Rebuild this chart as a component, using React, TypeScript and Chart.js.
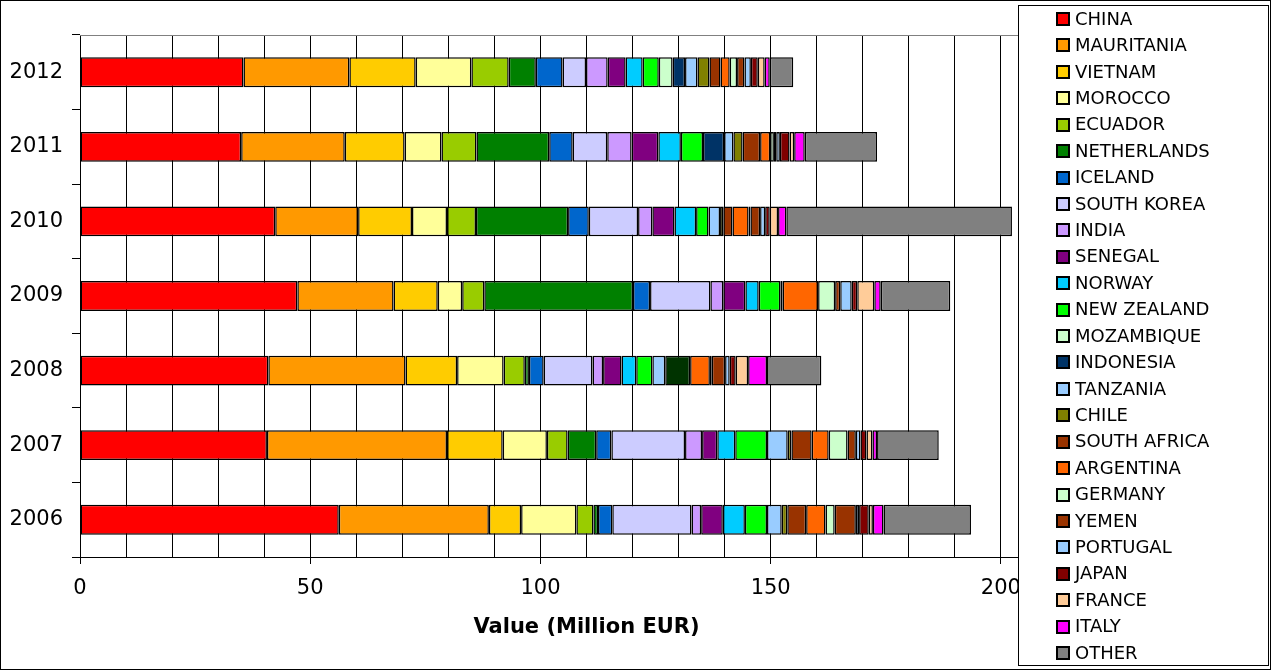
import React, { useEffect, useRef } from 'react';
import { Chart, registerables } from 'chart.js';

Chart.register(...registerables);

// Years, oldest first (the y axis is reversed so 2012 sits on top)
const YEARS = ['2006', '2007', '2008', '2009', '2010', '2011', '2012'];

// Import value per origin country, million EUR, in YEARS order
const CHINA = [56.2, 40.6, 40.9, 47.2, 42.4, 35.0, 35.5];
const MAURITANIA = [32.6, 39.1, 29.8, 20.9, 18.0, 22.5, 23.0];
const VIETNAM = [7.0, 12.1, 11.2, 9.6, 11.7, 13.0, 14.4];
const MOROCCO = [12.0, 9.6, 10.1, 5.3, 7.6, 8.0, 12.1];
const ECUADOR = [3.7, 4.5, 4.6, 4.8, 6.3, 7.6, 8.1];
const NETHERLANDS = [1.0, 6.2, 0.9, 32.3, 20.0, 15.8, 5.9];
const ICELAND = [3.1, 3.3, 3.2, 3.7, 4.5, 5.1, 5.8];
const SOUTH_KOREA = [17.2, 16.0, 10.6, 13.1, 10.7, 7.5, 5.1];
const INDIA = [2.1, 3.7, 2.3, 2.8, 3.1, 5.3, 4.7];
const SENEGAL = [4.7, 3.3, 4.0, 4.8, 4.8, 5.8, 3.9];
const NORWAY = [4.8, 3.9, 3.2, 2.9, 4.7, 4.9, 3.7];
const NEW_ZEALAND = [4.8, 6.9, 3.5, 4.7, 2.7, 4.8, 3.5];
const MOZAMBIQUE = [0, 0, 0, 0, 0, 0, 3.0];
const INDONESIA = [0, 0, 0, 0, 0, 4.6, 2.7];
const TANZANIA = [3.2, 4.5, 2.8, 0, 2.5, 2.0, 2.7];
const CHILE = [1.2, 0.8, 5.4, 0.5, 0.7, 2.0, 2.6];
const SOUTH_AFRICA = [4.1, 4.4, 0, 0, 2.0, 3.8, 2.4];
const ARGENTINA = [4.2, 3.7, 4.3, 7.7, 3.5, 2.2, 2.0];
const GERMANY = [2.0, 4.1, 0.4, 3.7, 0.4, 0.8, 1.6];
const YEMEN = [4.6, 1.8, 2.9, 1.1, 2.1, 0.5, 1.6];
const PORTUGAL = [0.7, 1.0, 1.0, 2.5, 1.1, 0.8, 1.4];
const JAPAN = [2.1, 1.3, 1.3, 1.2, 1.0, 2.1, 1.5];
const FRANCE = [0.9, 1.3, 2.7, 3.7, 1.8, 1.0, 1.5];
const ITALY = [2.3, 1.0, 4.1, 1.4, 1.8, 2.3, 1.1];
const OTHER = [19.0, 13.4, 11.8, 15.1, 49.0, 15.7, 5.1];

const COUNTRIES = [
  'CHINA', 'MAURITANIA', 'VIETNAM', 'MOROCCO', 'ECUADOR', 'NETHERLANDS',
  'ICELAND', 'SOUTH KOREA', 'INDIA', 'SENEGAL', 'NORWAY', 'NEW ZEALAND',
  'MOZAMBIQUE', 'INDONESIA', 'TANZANIA', 'CHILE', 'SOUTH AFRICA',
  'ARGENTINA', 'GERMANY', 'YEMEN', 'PORTUGAL', 'JAPAN', 'FRANCE', 'ITALY',
  'OTHER',
];

const SERIES = [
  CHINA, MAURITANIA, VIETNAM, MOROCCO, ECUADOR, NETHERLANDS, ICELAND,
  SOUTH_KOREA, INDIA, SENEGAL, NORWAY, NEW_ZEALAND, MOZAMBIQUE, INDONESIA,
  TANZANIA, CHILE, SOUTH_AFRICA, ARGENTINA, GERMANY, YEMEN, PORTUGAL, JAPAN,
  FRANCE, ITALY, OTHER,
];

const COLORS = [
  '#FF0000', '#FF9900', '#FFCC00', '#FFFF99', '#99CC00', '#008000',
  '#0066CC', '#CCCCFF', '#CC99FF', '#800080', '#00CCFF', '#00FF00',
  '#CCFFCC', '#003366', '#99CCFF', '#808000', '#993300', '#FF6600',
  '#CCFFCC', '#993300', '#99CCFF', '#800000', '#FFCC99', '#FF00FF',
  '#808080',
];

// The 2008 Chile segment is filled dark green
const CHILE_2008_COLOR = '#003300';

const X_MAX = 220;
const X_STEP = 10;
const X_LABEL_STEP = 50;
const X_LABEL_LAST = 200;

const FONT = '"DejaVu Sans", Verdana, sans-serif';
const W = 1271;
const H = 670;

// Legend box drawn over the right side of the plot
const LEGEND = { left: 1018, top: 5, right: 1268, bottom: 665, firstRow: 19, rowGap: 26.42, swatchX: 1056, swatch: 14, textX: 1075, fontSize: 18 };

const framePlugin = {
  id: 'frameAndLegend',
  beforeDatasetsDraw(chart: any) {
    const { ctx, chartArea: a } = chart;
    ctx.save();
    ctx.strokeStyle = '#808080';
    ctx.lineWidth = 1;
    ctx.beginPath();
    ctx.moveTo(a.left, Math.round(a.top) + 0.5);
    ctx.lineTo(Math.round(a.right) + 0.5, Math.round(a.top) + 0.5);
    ctx.lineTo(Math.round(a.right) + 0.5, a.bottom);
    ctx.stroke();
    ctx.restore();
  },
  afterDraw(chart: any) {
    const ctx = chart.ctx;
    const L = LEGEND;
    ctx.save();
    ctx.fillStyle = '#FFFFFF';
    ctx.fillRect(L.left, L.top, L.right - L.left, L.bottom - L.top);
    ctx.strokeStyle = '#000000';
    ctx.lineWidth = 1;
    ctx.strokeRect(L.left + 0.5, L.top + 0.5, L.right - L.left, L.bottom - L.top);

    ctx.font = `${L.fontSize}px ${FONT}`;
    ctx.textBaseline = 'middle';
    ctx.textAlign = 'left';
    chart.data.datasets.forEach((ds: any, i: number) => {
      const y = L.firstRow + i * L.rowGap;
      const top = Math.round(y - L.swatch / 2);
      ctx.fillStyle = '#000000';
      ctx.fillRect(L.swatchX, top, L.swatch, L.swatch);
      ctx.fillStyle = ds.legendColor;
      ctx.fillRect(L.swatchX + 2, top + 2, L.swatch - 4, L.swatch - 4);
      ctx.fillStyle = '#000000';
      ctx.fillText(ds.label, L.textX, y + 1);
    });

    // outer frame of the chart
    ctx.strokeStyle = '#000000';
    ctx.strokeRect(0.5, 0.5, W - 1, H - 1);
    ctx.restore();
  },
};

export default function App() {
  const canvasRef = useRef<HTMLCanvasElement | null>(null);

  useEffect(() => {
    const canvas = canvasRef.current;
    if (!canvas) return;

    const datasets = COUNTRIES.map((name, i) => ({
      label: name,
      data: SERIES[i].map((v) => (v > 0 ? v : null)),
      backgroundColor:
        name === 'CHILE'
          ? YEARS.map((y) => (y === '2008' ? CHILE_2008_COLOR : COLORS[i]))
          : COLORS[i],
      legendColor: COLORS[i],
      borderColor: '#000000',
      borderWidth: 1.5,
      borderSkipped: false,
      categoryPercentage: 1,
      barPercentage: 0.4,
    }));

    const chart = new Chart(canvas, {
      type: 'bar',
      data: { labels: YEARS, datasets: datasets as any },
      options: {
        indexAxis: 'y',
        responsive: false,
        animation: false,
        events: [],
        layout: { padding: { top: 35, right: 178, bottom: 0, left: 0 } },
        plugins: {
          legend: { display: false },
          tooltip: { enabled: false },
        },
        scales: {
          x: {
            type: 'linear',
            stacked: true,
            min: 0,
            max: X_MAX,
            afterFit: (s: any) => { s.height = 113; },
            ticks: {
              stepSize: X_STEP,
              autoSkip: false,
              maxRotation: 0,
              padding: 12,
              color: '#000000',
              font: { family: FONT, size: 21 },
              callback: (v: any) => (v % X_LABEL_STEP === 0 && v <= X_LABEL_LAST ? String(v) : ''),
            },
            grid: {
              color: '#000000',
              lineWidth: 1,
              tickLength: 7,
              tickColor: (c: any) => (c.tick && c.tick.value % X_LABEL_STEP === 0 ? '#000000' : 'rgba(0,0,0,0)'),
            },
            border: { color: '#000000', width: 1 },
            title: {
              display: true,
              text: 'Value (Million EUR)',
              color: '#000000',
              font: { family: FONT, size: 21, weight: 'bold' },
              padding: { top: 0, bottom: 30 },
            },
          },
          y: {
            type: 'category',
            stacked: true,
            reverse: true,
            afterFit: (s: any) => { s.width = 80; },
            ticks: {
              color: '#000000',
              font: { family: FONT, size: 21 },
              padding: 9,
            },
            grid: {
              offset: true,
              drawOnChartArea: false,
              tickLength: 8,
              color: '#000000',
            },
            border: { color: '#000000', width: 1 },
          },
        },
      } as any,
      plugins: [framePlugin],
    });

    return () => chart.destroy();
  }, []);

  return (
    <div style={{ position: 'fixed', left: 0, top: 0, width: W, height: H, background: '#FFFFFF' }}>
      <canvas ref={canvasRef} width={W} height={H} style={{ display: 'block', width: W, height: H }} />
    </div>
  );
}
